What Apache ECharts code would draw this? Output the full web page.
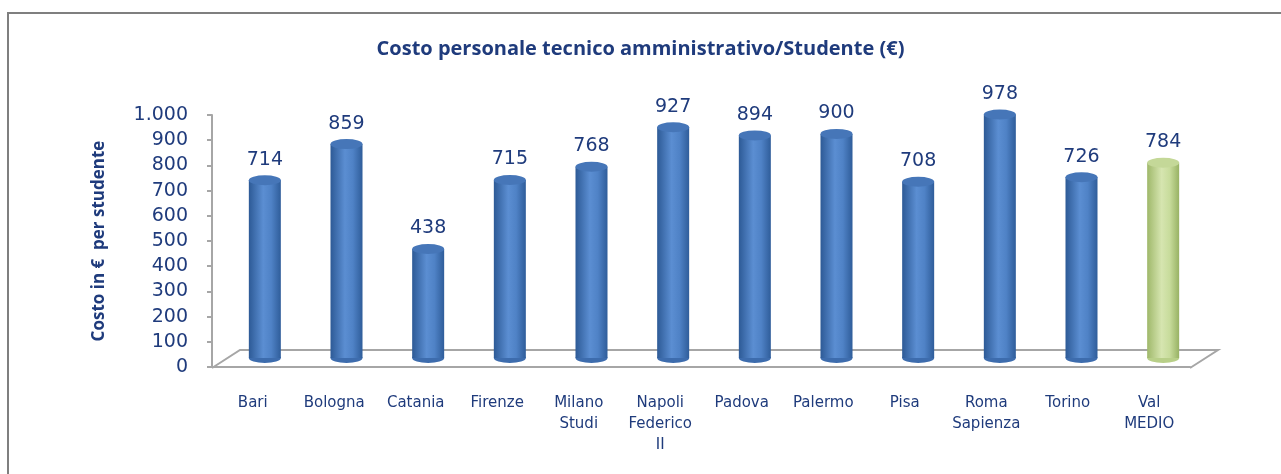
<!DOCTYPE html>
<html>
<head>
<meta charset="utf-8">
<script src="https://cdn.jsdelivr.net/npm/echarts@6/dist/echarts.min.js"></script>
<style>
  html, body { margin: 0; padding: 0; background: #fff; }
  #chart { width: 1281px; height: 474px; }
</style>
</head>
<body>
<div id="chart"></div>
<script>
var categories = ['Bari', 'Bologna', 'Catania', 'Firenze', 'Milano\nStudi', 'Napoli\nFederico\nII',
  'Padova', 'Palermo', 'Pisa', 'Roma\nSapienza', 'Torino', 'Val\nMEDIO'];
var costValues = [714, 859, 438, 715, 768, 927, 894, 900, 708, 978, 726, 784];
var highlightIndex = 11; // Val MEDIO in verde
var yTicks = [0, 1000, 100]; // min, max, interval

var navy = '#1f3b7c';
var blueGrad = new echarts.graphic.LinearGradient(0, 0, 1, 0, [
  { offset: 0, color: '#2d5a96' },
  { offset: 0.45, color: '#5b8ed2' },
  { offset: 0.7, color: '#4f82c6' },
  { offset: 1, color: '#2f5d9a' }
]);
var greenGrad = new echarts.graphic.LinearGradient(0, 0, 1, 0, [
  { offset: 0, color: '#9fb86a' },
  { offset: 0.45, color: '#d6e5b0' },
  { offset: 0.7, color: '#c8dc9c' },
  { offset: 1, color: '#98b264' }
]);

// asse "visibile" e griglia delle barre (spostata per la prospettiva 3D)
var axisLeft = 212, axisRight = 1190, axisBottom = 367;
var depthX = 28, depthY = 18;

var barData = costValues.map(function (v, i) {
  return {
    value: v,
    itemStyle: { color: i === highlightIndex ? greenGrad : blueGrad }
  };
});
var capData = costValues.map(function (v, i) {
  return {
    value: v,
    itemStyle: { color: i === highlightIndex ? '#c4d898' : '#4676b8' }
  };
});
var baseData = costValues.map(function (v, i) {
  return {
    value: v,
    itemStyle: { color: i === highlightIndex ? '#b8cf88' : '#3d6cad' }
  };
});

var myChart = echarts.init(document.getElementById('chart'));
myChart.setOption({
  animation: false,
  title: {
    text: 'Costo personale tecnico amministrativo/Studente (€)',
    left: 'center',
    top: 34,
    textStyle: {
      color: navy,
      fontFamily: 'Open Sans',
      fontWeight: 'bold',
      fontSize: 20
    }
  },
  graphic: [
    { // cornice esterna
      type: 'rect',
      shape: { x: 8, y: 13, width: 1300, height: 500 },
      style: { fill: 'none', stroke: '#7f7f7f', lineWidth: 2 },
      z: 0
    },
    { // pavimento 3D
      type: 'polyline',
      shape: {
        points: [
          [axisLeft, axisBottom + 1],
          [axisLeft + depthX, axisBottom + 1 - depthY],
          [axisRight + depthX, axisBottom + 1 - depthY],
          [axisRight, axisBottom + 1]
        ]
      },
      style: { fill: 'none', stroke: '#a6a6a6', lineWidth: 2 },
      z: 0
    }
  ],
  grid: [
    { left: axisLeft, right: 1281 - axisRight, top: 115, bottom: 474 - axisBottom },
    { left: 224, right: 1281 - 1204, top: 109, bottom: 116 }
  ],
  xAxis: [
    {
      type: 'category',
      gridIndex: 0,
      data: categories,
      axisLine: { lineStyle: { color: '#a6a6a6', width: 2 } },
      axisTick: { length: 5, lineStyle: { color: '#a6a6a6', width: 2 } },
      axisLabel: {
        color: navy,
        fontFamily: 'DejaVu Sans',
        fontSize: 15,
        lineHeight: 21,
        margin: 26,
        interval: 0
      }
    },
    {
      type: 'category',
      gridIndex: 1,
      data: categories,
      show: false
    }
  ],
  yAxis: [
    {
      type: 'value',
      gridIndex: 0,
      min: yTicks[0],
      max: yTicks[1],
      interval: yTicks[2],
      name: 'Costo in €  per studente',
      nameLocation: 'middle',
      nameGap: 104,
      nameTextStyle: {
        color: navy,
        fontFamily: 'Open Sans',
        fontWeight: 'bold',
        fontSize: 17
      },
      splitLine: { show: false },
      axisLine: { show: true, lineStyle: { color: '#a6a6a6', width: 2 } },
      axisTick: { show: true, length: 5, lineStyle: { color: '#a6a6a6', width: 2 } },
      axisLabel: {
        color: navy,
        fontFamily: 'DejaVu Sans',
        fontSize: 19,
        margin: 24,
        formatter: function (v) {
          return v.toString().replace(/\B(?=(\d{3})+(?!\d))/g, '.');
        }
      }
    },
    {
      type: 'value',
      gridIndex: 1,
      min: yTicks[0],
      max: yTicks[1],
      show: false
    }
  ],
  series: [
    {
      name: 'corpo',
      type: 'bar',
      xAxisIndex: 1,
      yAxisIndex: 1,
      barWidth: 32,
      data: barData,
      label: {
        show: true,
        position: 'top',
        distance: 11,
        color: navy,
        fontFamily: 'DejaVu Sans',
        fontSize: 19
      },
      z: 2
    },
    {
      name: 'base',
      type: 'pictorialBar',
      xAxisIndex: 1,
      yAxisIndex: 1,
      symbol: 'circle',
      symbolSize: [32, 10],
      symbolPosition: 'start',
      symbolOffset: [0, '50%'],
      data: baseData,
      z: 1
    },
    {
      name: 'cima',
      type: 'pictorialBar',
      xAxisIndex: 1,
      yAxisIndex: 1,
      symbol: 'circle',
      symbolSize: [32, 10],
      symbolPosition: 'end',
      symbolOffset: [0, '-50%'],
      data: capData,
      z: 3
    }
  ]
});
</script>
</body>
</html>
